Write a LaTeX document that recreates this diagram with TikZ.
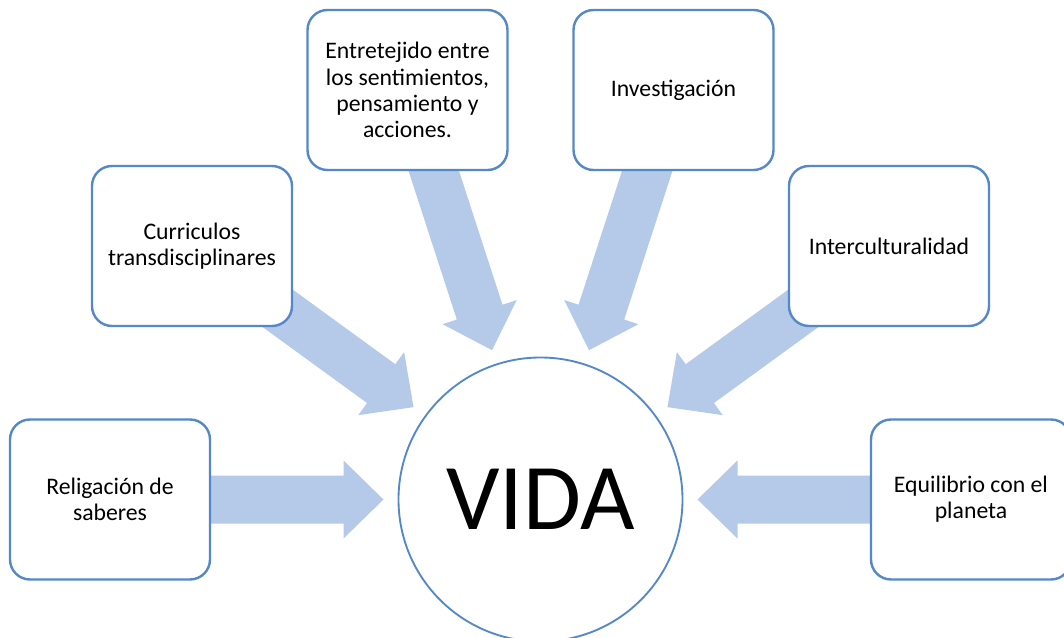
\documentclass[tikz,border=0pt]{standalone}
\usepackage{fontspec}
\setmainfont{Carlito}
\usetikzlibrary{calc,backgrounds}
\definecolor{edgeblue}{RGB}{84,136,198}
\definecolor{arrowblue}{RGB}{181,201,232}
\tikzset{
  topic/.style={draw=edgeblue, line width=1.8pt, fill=white, rounded corners=15pt,
    minimum width=150pt, minimum height=120pt, align=center, inner sep=0pt,
    font=\fontsize{17.8pt}{19.6pt}\selectfont},
  hub/.style={draw=edgeblue, line width=1.4pt, fill=white, circle, minimum size=213pt,
    inner sep=0pt, font=\fontsize{70.6pt}{76pt}\selectfont},
  blockarrow/.style={fill=arrowblue, draw=none}
}
\begin{document}
\begin{tikzpicture}[x=0.75pt, y=-0.75pt]
\useasboundingbox (0,0) rectangle (1064,638);
\clip (0,0) rectangle (1064,638);

% central circle
\node[hub] (vida) at (540.5,499.5) {VIDA};

% surrounding topics
\node[topic] (rel) at (110,499.5) {Religación de\\saberes};
\node[topic] (cur) at (192,246) {Curriculos\\transdisciplinares};
\node[topic] (ent) at (407.5,90) {Entretejido entre\\los sentimientos,\\pensamiento y\\acciones.};
\node[topic] (inv) at (673.5,90) {Investigación};
\node[topic] (int) at (889,246) {Interculturalidad};
\node[topic] (equ) at (971,499.5) {Equilibrio con el\\planeta};

% block arrows from each topic towards the circle, drawn underneath the boxes
\begin{scope}[on background layer]
\foreach \b in {rel,cur,ent,inv,int,equ} {
  \coordinate (\b-t) at ($(vida.center)!117.75pt!(\b.center)$);
  \coordinate (\b-h) at ($(\b-t)!30pt!(\b.center)$);
  \coordinate (\b-s) at (\b.center);
  \fill[blockarrow]
    ($(\b-s)!18pt!90:(\b-t)$) -- ($(\b-h)!18pt!90:(\b-t)$) --
    ($(\b-h)!29.25pt!90:(\b-t)$) -- (\b-t) --
    ($(\b-h)!29.25pt!-90:(\b-t)$) -- ($(\b-h)!18pt!-90:(\b-t)$) --
    ($(\b-s)!18pt!-90:(\b-t)$) -- cycle;
}
\end{scope}
\end{tikzpicture}
\end{document}
